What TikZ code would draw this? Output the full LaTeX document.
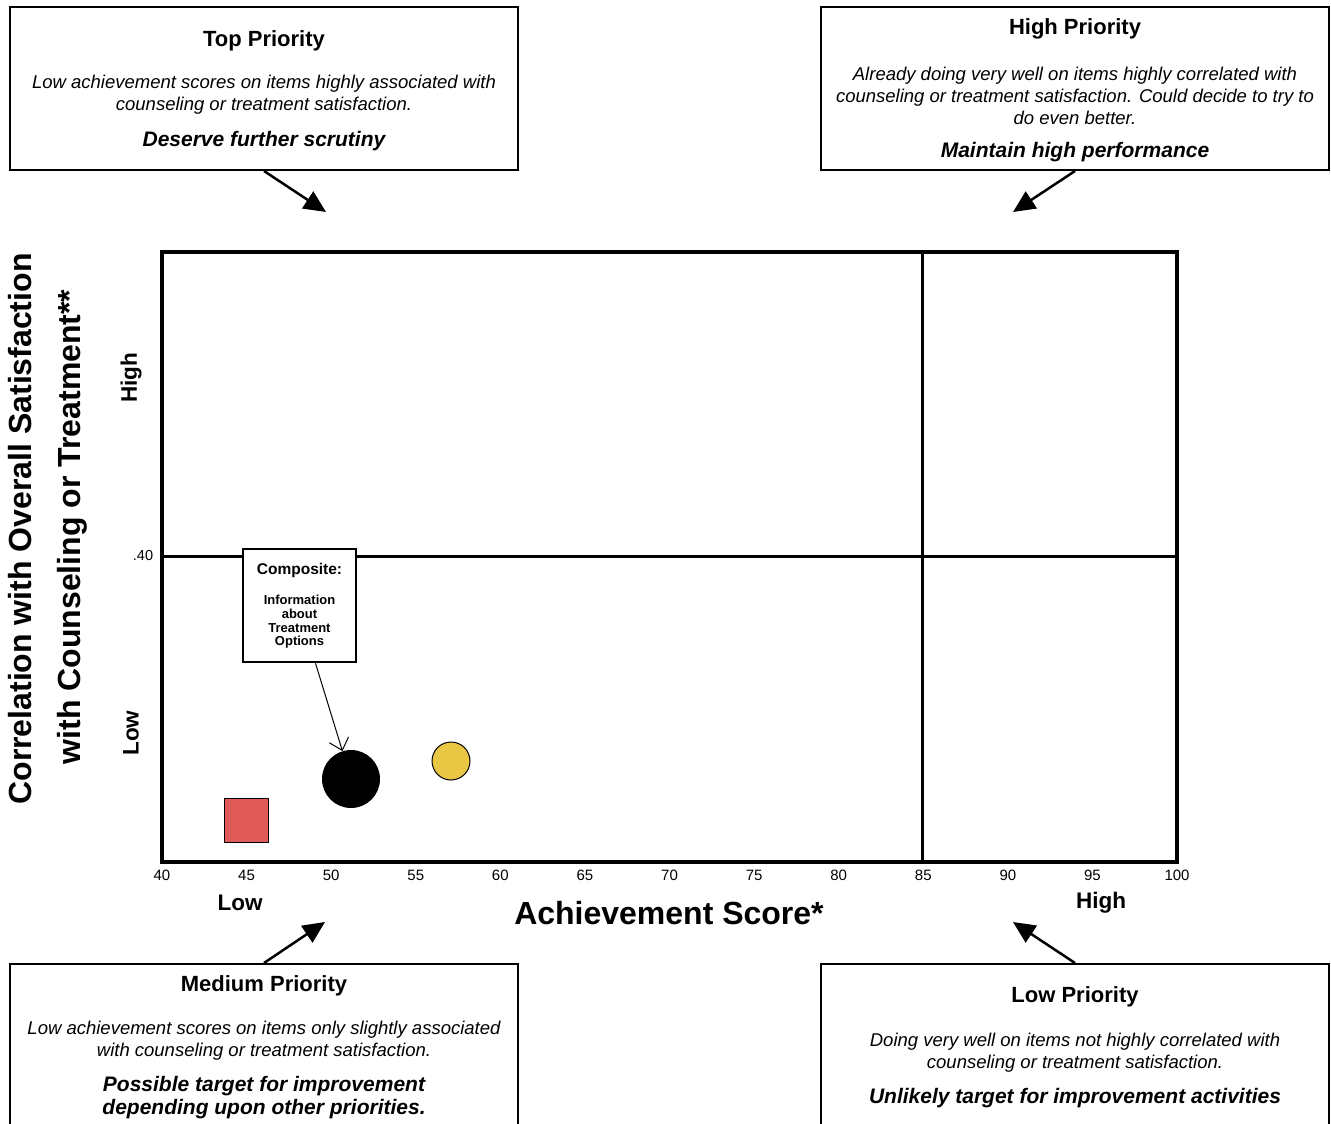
\documentclass[tikz,border=0pt]{standalone}
\usepackage{fontspec}
\setmainfont{Liberation Sans}
\usetikzlibrary{positioning,arrows.meta}
\definecolor{dotred}{HTML}{E05A5A}
\definecolor{dotyellow}{HTML}{E9C643}

\begin{document}
\begin{tikzpicture}[x=1pt,y=-1pt,
  prio/.style={draw, line width=2pt, minimum width=508pt, minimum height=163pt},
  ptitle/.style={font=\fontsize{22}{26}\selectfont\bfseries, yshift=-2pt},
  pbody/.style={align=center, font=\fontsize{18.5}{22}\selectfont\itshape, yshift=-2pt},
  pgoal/.style={align=center, font=\fontsize{21}{23}\selectfont\bfseries\itshape, yshift=-2pt},
  bigarrow/.style={-{Triangle[length=22pt,width=20pt]}, line width=2.5pt},
  tick/.style={font=\fontsize{15}{17}\selectfont},
  axlab/.style={font=\fontsize{22.5}{26}\selectfont\bfseries},
  axtitle/.style={font=\fontsize{32}{37}\selectfont\bfseries}]
\useasboundingbox (0,0) rectangle (1331,1124);

% the four priority boxes
\node [prio] (topprio) at (264,88.5) {};
\node [ptitle] (toptitle) at (264,39) {Top Priority};
\node [pbody] (topbody) at (264,93) {Low achievement scores on items highly associated with\\counseling or treatment satisfaction.};
\node [pgoal] (topgoal) at (264,139) {Deserve further scrutiny};

\node [prio] (highprio) at (1075,88.5) {};
\node [ptitle] (hightitle) at (1075,27) {High Priority};
\node [pbody] (highbody) at (1075,94) {Already doing very well on items highly correlated with\\counseling or treatment satisfaction. Could decide to try to\\do even better.};
\node [pgoal] (highgoal) at (1075,150) {Maintain high performance};

\node [prio, minimum height=180pt] (medprio) at (264,1054) {};
\node [ptitle] (medtitle) at (264,984) {Medium Priority};
\node [pbody] (medbody) at (264,1039) {Low achievement scores on items only slightly associated\\with counseling or treatment satisfaction.};
\node [pgoal] (medgoal) at (264,1095.5) {Possible target for improvement\\depending upon other priorities.};

\node [prio, minimum height=180pt] (lowprio) at (1075,1054) {};
\node [ptitle] (lowtitle) at (1075,995) {Low Priority};
\node [pbody] (lowbody) at (1075,1051) {Doing very well on items not highly correlated with\\counseling or treatment satisfaction.};
\node [pgoal] (lowgoal) at (1075,1096) {Unlikely target for improvement activities};

\coordinate (toptip) at (326,212);
\coordinate (hightip) at (1013,212);
\coordinate (medtip) at (325,922);
\coordinate (lowtip) at (1013,922);
\draw[bigarrow] (topprio.south) -- (toptip);
\draw[bigarrow] (highprio.south) -- (hightip);
\draw[bigarrow] (medprio.north) -- (medtip);
\draw[bigarrow] (lowprio.north) -- (lowtip);

% plot area
\coordinate (sw) at (162,862);
\coordinate (ne) at (1177,252);
\coordinate (cuttop) at (922,252);
\coordinate (cutbot) at (922,862);
\coordinate (cutl) at (162,556);
\coordinate (cutr) at (1177,556);
\draw[line width=3pt] (cuttop) -- (cutbot);
\draw[line width=3pt] (cutl) -- (cutr);
\draw[line width=4pt] (sw) rectangle (ne);

\foreach \v in {40,45,...,100}
  \node [tick] (t\v) at ({162+(\v-40)*16.9167},875) {\v};

\node [axlab] (xlow) at (240,903) {Low};
\node [axlab] (xhigh) at (1101,903) {High};
\node [axtitle] (xtitle) at (669,913) {Achievement Score*};
\node [axlab, rotate=90] (yhigh) at (131,378) {High};
\node [axlab, rotate=90] (ylow) at (131,733) {Low};
\node [font=\fontsize{14.5}{17}\selectfont] (ycut) at (143,556) {.40};
\node [axtitle, rotate=90] (ytitle) at (20,529) {Correlation with Overall Satisfaction};
\node [axtitle, rotate=90] (ytitletwo) at (72,527) {with Counseling or Treatment**};

% data points
\node [draw, fill=dotred, minimum size=44pt, inner sep=0pt, line width=1pt] (redsq) at (246,820) {};
\node [circle, fill=black, minimum size=58pt, inner sep=0pt] (blackdot) at (351,779) {};
\node [circle, draw, fill=dotyellow, minimum size=38pt, inner sep=0pt, line width=1pt] (yellowdot) at (451,761) {};

\node [draw, fill=white, line width=2.5pt, minimum size=113pt, inner sep=0pt] (comp) at (299.5,605.5) {};
\node [font=\fontsize{15.5}{18}\selectfont\bfseries] (comptitle) at (299.5,570) {Composite:};
\node [align=center, font=\fontsize{13}{13.7}\selectfont\bfseries] (compbody) at (299.5,622) {Information\\about\\Treatment\\Options};
\draw[-{Straight Barb[length=11pt,width=20pt]}, line width=1pt] ([xshift=16pt]comp.south) -- (blackdot);
\end{tikzpicture}
\end{document}
